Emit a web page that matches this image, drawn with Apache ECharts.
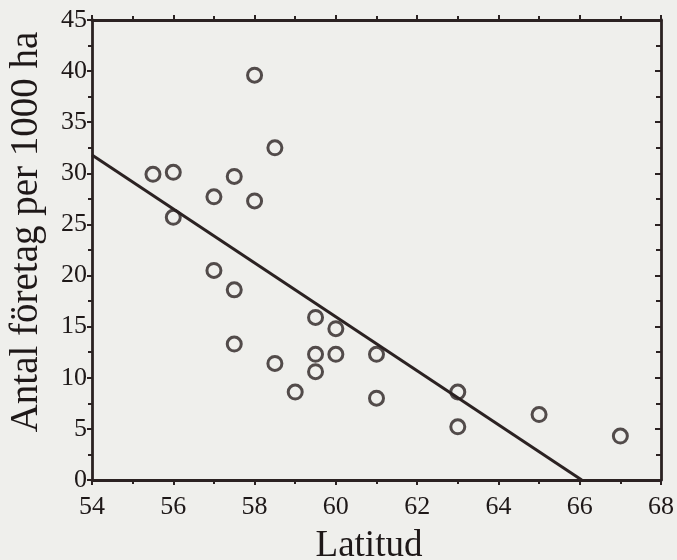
<!DOCTYPE html>
<html><head><meta charset="utf-8">
<script src="https://cdn.jsdelivr.net/npm/echarts@6/dist/echarts.min.js"></script>
<style>html,body{margin:0;padding:0;background:#efefec}#c{width:677px;height:560px}</style>
</head><body><div id="c"></div>
<script>
var latitud = [55.5,56.0,56.0,57.0,57.5,58.0,58.0,58.5,57.0,57.5,57.5,58.5,59.0,59.5,59.5,59.5,60.0,60.0,61.0,61.0,63.0,63.0,65.0,67.0];
var foretag = [29.9,30.1,25.7,27.7,29.7,27.3,39.6,32.5,20.5,18.6,13.3,11.4,8.6,15.9,12.3,10.6,14.8,12.3,12.3,8.0,8.6,5.2,6.4,4.3];
var lineX = [54, 66.05];
var lineY = [31.8, 0];
var xTicks = [54,56,58,60,62,64,66,68];
var yTicks = [0,5,10,15,20,25,30,35,40,45];
var xTitle = 'Latitud';
var yTitle = 'Antal företag per 1000 ha';

var ink = '#2b2222';
var txt = '#1e1818';
var font = 'Liberation Serif';
var chart = echarts.init(document.getElementById('c'));
function axisBase(extra){
  return Object.assign({
    axisLine:{show:true,onZero:false,lineStyle:{color:ink,width:2.8}},
    axisTick:{show:true,length:5,lineStyle:{color:ink,width:2}},
    minorTick:{show:true,splitNumber:2,length:4,lineStyle:{color:ink,width:2}},
    splitLine:{show:false}
  }, extra);
}
chart.setOption({
  backgroundColor:'#efefec',
  animation:false,
  grid:{left:92,right:12,top:20,bottom:80},
  graphic:[
    {type:'text',x:369,y:546,silent:true,
     style:{text:xTitle,font:'37px "Liberation Serif"',fill:txt,textAlign:'center',textVerticalAlign:'middle'}},
    {type:'text',x:27,y:232,rotation:Math.PI/2,silent:true,
     style:{text:yTitle,font:'39px "Liberation Serif"',fill:txt,textAlign:'center',textVerticalAlign:'middle'}}
  ],
  xAxis:[
    axisBase({type:'value',min:xTicks[0],max:xTicks[xTicks.length-1],interval:2,position:'bottom',
      axisLabel:{fontFamily:font,fontSize:26,color:txt,margin:14}}),
    axisBase({type:'value',min:xTicks[0],max:xTicks[xTicks.length-1],interval:2,position:'top',
      axisLabel:{show:false}})
  ],
  yAxis:[
    axisBase({type:'value',min:yTicks[0],max:yTicks[yTicks.length-1],interval:5,position:'left',
      axisLabel:{fontFamily:font,fontSize:26,color:txt,margin:5}}),
    axisBase({type:'value',min:yTicks[0],max:yTicks[yTicks.length-1],interval:5,position:'right',
      axisLabel:{show:false},
      axisTick:{show:true,inside:true,length:6,lineStyle:{color:ink,width:2}},
      minorTick:{show:true,splitNumber:2,length:5,lineStyle:{color:ink,width:2}}})
  ],
  series:[
    {type:'line',data:lineX.map(function(x,i){return [x,lineY[i]];}),
     symbol:'none',lineStyle:{color:ink,width:3},silent:true,z:2},
    {type:'scatter',data:latitud.map(function(x,i){return [x,foretag[i]];}),
     symbol:'circle',symbolSize:14,
     itemStyle:{color:'rgba(0,0,0,0)',borderColor:ink,borderWidth:3},z:3}
  ]
});
</script></body></html>
